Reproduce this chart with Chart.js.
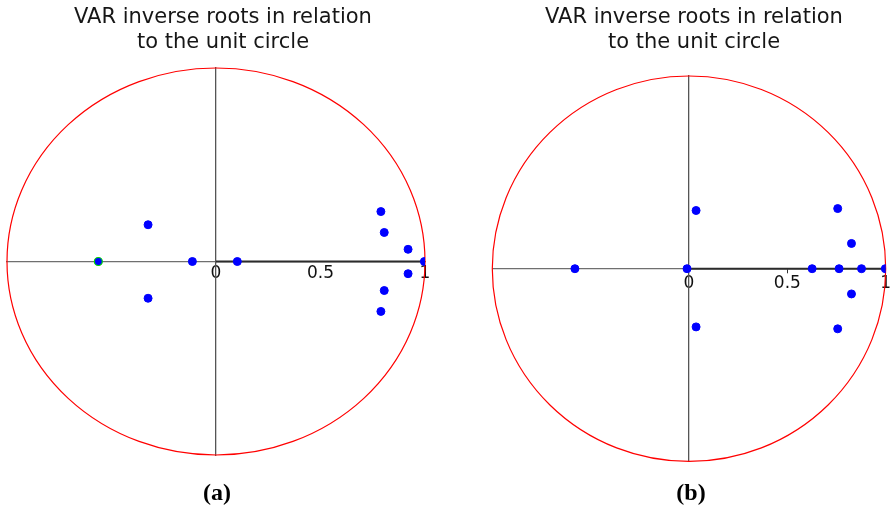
<!DOCTYPE html>
<html>
<head>
<meta charset="utf-8">
<script src="https://cdn.jsdelivr.net/npm/chart.js@4/dist/chart.umd.min.js"></script>
<style>
  html, body { margin: 0; padding: 0; background: #fff; width: 891px; height: 510px; overflow: hidden; }
  canvas { position: absolute; top: 0; }
  .title { position: absolute; top: 3.5px; width: 440px; text-align: center;
           font-family: "DejaVu Sans", sans-serif; font-size: 21px; line-height: 25px; color: #161616; }
  .tag { position: absolute; top: 480px; width: 60px; text-align: center;
         font-family: "Liberation Serif", serif; font-weight: bold; font-size: 24px; line-height: 24px; color: #000; }
</style>
</head>
<body>
<canvas id="chartA" width="445" height="480" style="left:0px"></canvas>
<canvas id="chartB" width="455" height="480" style="left:440px"></canvas>
<div class="title" style="left:3px">VAR inverse roots in relation<br>to the unit circle</div>
<div class="title" style="left:474px">VAR inverse roots in relation<br>to the unit circle</div>
<div class="tag" style="left:187px">(a)</div>
<div class="tag" style="left:661px">(b)</div>
<script>
// Axis tick values (only the non-negative ones get a label)
const tickValues = [-1, -0.5, 0, 0.5, 1];

// Model (a): inverse roots, real and imaginary parts
const rootsA_re = [-0.325, -0.325, -0.113, 0.102, 0.789, 0.789, 0.805, 0.805, 0.919, 0.919, 0.997];
const rootsA_im = [0.19, -0.19, 0, 0, 0.258, -0.258, 0.15, -0.15, 0.063, -0.063, 0];
// Model (a): highlighted root
const markedA_re = [-0.563];
const markedA_im = [0];

// Model (b): inverse roots, real and imaginary parts
const rootsB_re = [-0.58, -0.01, 0.036, 0.036, 0.626, 0.756, 0.756, 0.763, 0.826, 0.826, 0.877, 0.998];
const rootsB_im = [0, 0, 0.302, -0.302, 0, 0.312, -0.312, 0, 0.131, -0.131, 0, 0];

// Positive real half-axis segment
const segmentRe = [0, 1];
const segmentIm = [0, 0];

// Radius of the reference circle
const unitRadius = 1;

const toPoints = (re, im) => re.map((r, i) => ({ x: r, y: im[i] }));

const unitCircle = {
  id: 'unitCircle',
  beforeDatasetsDraw(chart) {
    const { ctx, scales: { x, y } } = chart;
    const cx = x.getPixelForValue(0), cy = y.getPixelForValue(0);
    const rx = x.getPixelForValue(unitRadius) - cx;
    const ry = cy - y.getPixelForValue(unitRadius);
    ctx.save();
    ctx.strokeStyle = '#ff0000';
    ctx.lineWidth = 1.2;
    ctx.beginPath();
    ctx.ellipse(cx, cy, rx, ry, 0, 0, Math.PI * 2);
    ctx.stroke();
    ctx.restore();
  }
};

function makeChart(id, datasets, padding, tickMarks) {
  return new Chart(document.getElementById(id), {
    type: 'scatter',
    data: { datasets },
    options: {
      responsive: false,
      animation: false,
      events: [],
      layout: { padding },
      plugins: { legend: { display: false }, tooltip: { enabled: false }, title: { display: false } },
      scales: {
        x: {
          type: 'linear', min: -1, max: 1,
          position: { y: 0 },
          afterBuildTicks: s => { s.ticks = tickValues.map(v => ({ value: v })); },
          grid: tickMarks
            ? { display: true, drawOnChartArea: false, drawTicks: true, tickLength: 4,
                color: c => (c.tick && c.tick.value === 0.5) ? '#333' : 'rgba(0,0,0,0)' }
            : { display: false, drawTicks: false },
          border: { display: true, color: '#6f6f6f', width: 1.3 },
          ticks: {
            autoSkip: false, maxRotation: 0, padding: tickMarks ? 1 : 2,
            color: '#111', font: { family: 'DejaVu Sans', size: 17 },
            callback: v => (v < 0 ? '' : String(v))
          }
        },
        y: {
          type: 'linear', min: -1, max: 1,
          position: { x: 0 },
          grid: { display: false, drawTicks: false },
          border: { display: true, color: '#555', width: 1.3 },
          ticks: { display: false }
        }
      }
    },
    plugins: [unitCircle]
  });
}

const segmentStyle = {
  type: 'line', showLine: true, borderColor: '#2b2b2b', borderWidth: 2,
  pointRadius: 0, fill: false, order: 3
};
const rootStyle = {
  backgroundColor: '#0000ff', borderColor: '#0000ff', borderWidth: 1,
  pointRadius: 4, order: 1
};

makeChart('chartA', [
  { ...segmentStyle, data: toPoints(segmentRe, segmentIm) },
  { ...rootStyle, data: toPoints(rootsA_re, rootsA_im) },
  { ...rootStyle, borderColor: '#00dd00', borderWidth: 1.2, data: toPoints(markedA_re, markedA_im) }
], { left: 7, right: 20, top: 68, bottom: 25 }, false);

makeChart('chartB', [
  { ...segmentStyle, data: toPoints(segmentRe, segmentIm) },
  { ...rootStyle, data: toPoints(rootsB_re, rootsB_im) }
], { left: 52.3, right: 9.3, top: 76, bottom: 18.6 }, true);
</script>
</body>
</html>
